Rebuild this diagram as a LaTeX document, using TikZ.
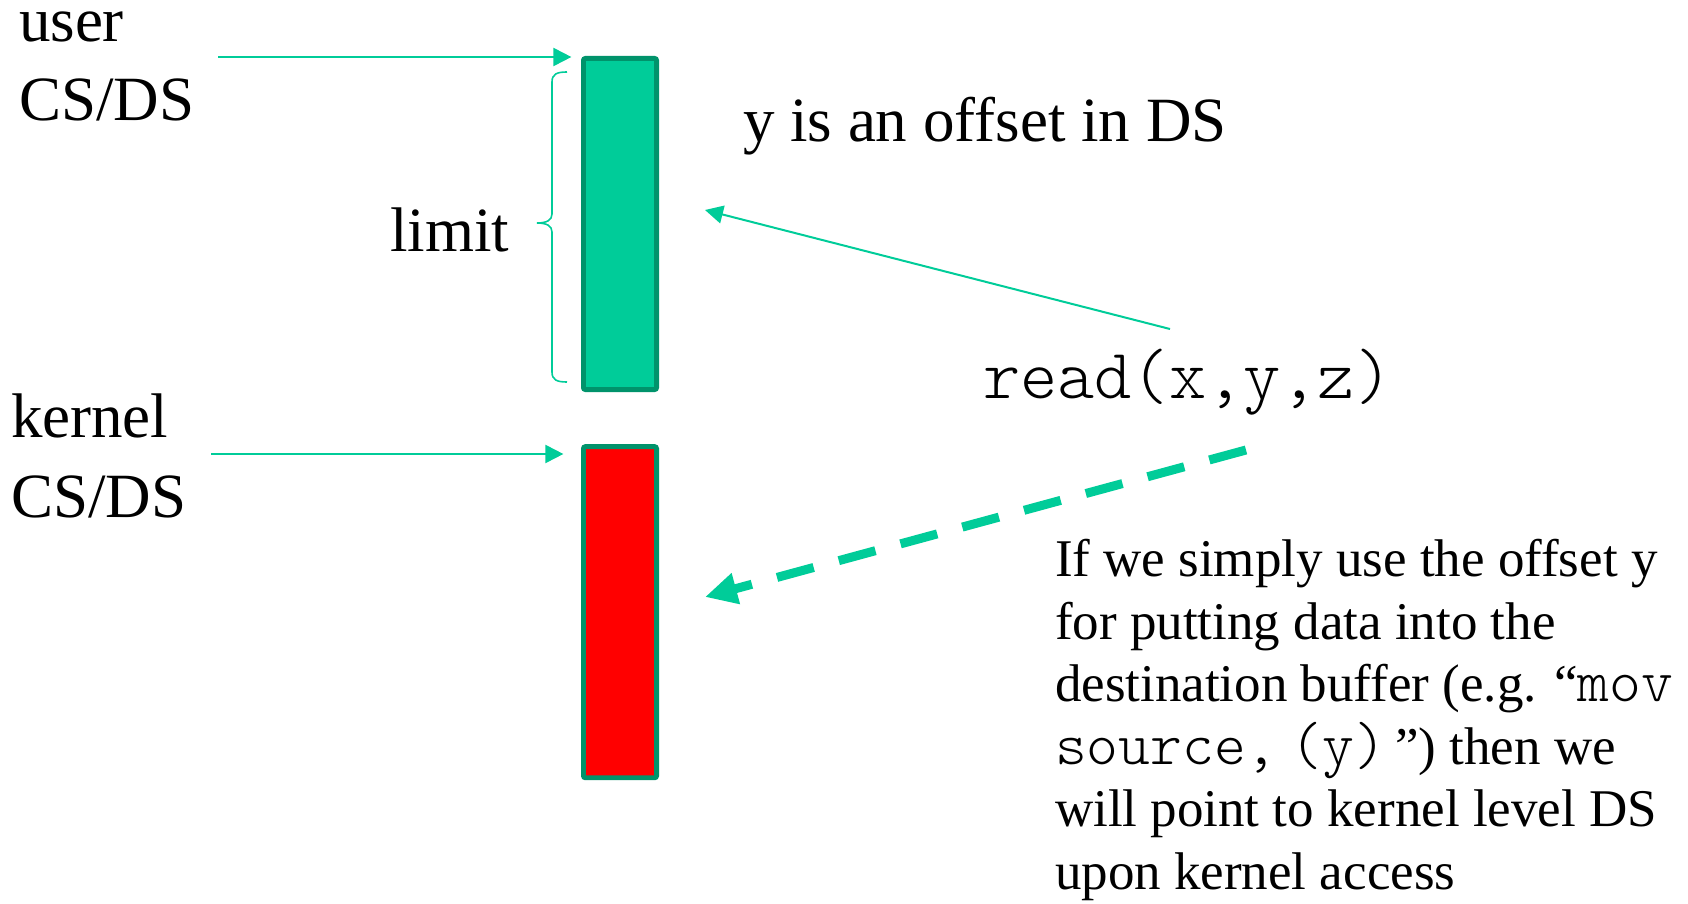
\documentclass[tikz,border=0pt]{standalone}
\usepackage{fontspec}
\setmainfont{Liberation Serif}
\setmonofont[Scale=1.143]{lmmonolt10-regular.otf}
\usetikzlibrary{arrows.meta,positioning}
\definecolor{segfill}{HTML}{00CC99}
\definecolor{segedge}{HTML}{00936B}
\definecolor{kernred}{HTML}{FF0000}

\begin{document}
\begin{tikzpicture}[x=0.5pt, y=-0.5pt, every node/.style={inner sep=0pt, outer sep=0pt},
    seg/.style={draw=segedge, line width=2.4pt, rounded corners=1pt, minimum width=36.6pt, minimum height=165.6pt},
    link/.style={segfill, line width=1pt, -{Triangle[length=9pt,width=9pt]}},
    big/.style={font=\fontsize{31.5}{39.8}\selectfont, align=left}]
        \useasboundingbox (0,0) rectangle (1688,904);
        % the two segments
        \node[seg,fill=segfill] (useg) at (620,224) {};
        \node[seg,fill=kernred,below=28.5pt of useg] (kseg) {};
        % labels on the left (base = last line)
        \node[big,anchor=base west] (ulbl) at (19,121) {user\\CS/DS};
        \node[big,anchor=base west] (klbl) at (11,517) {kernel\\CS/DS};
        \node[big,anchor=base west] (lim) at (390,251) {limit};
        \node[big,anchor=base west] (offs) at (743,141) {y is an offset in DS};
        \node[font=\ttfamily\fontsize{31}{37}\selectfont,anchor=base west] (read) at (983,398) {read(x,y,z)};
        \node[font=\fontsize{26.5}{31.25}\selectfont,align=left,anchor=base west] (note) at (1055,889)
            {If we simply use the offset y\\
             for putting data into the\\
             destination buffer (e.g. “\texttt{mov}\\
             \texttt{source,} \texttt{(y)}\,”) then we\\
             will point to kernel level DS\\
             upon kernel access};
        % connectors
        \coordinate (uin) at (218,57);
        \coordinate (kin) at (211,454);
        \coordinate (rtail) at (1170,329);
        \coordinate (uhit) at (705,210);
        \coordinate (dtail) at (1246,450);
        \coordinate (khit) at (705,597);
        \draw[link,shorten >=6pt] (uin) -- (uin -| useg.west);
        \draw[link,shorten >=10pt] (kin) -- (kin -| kseg.west);
        \draw[link] (rtail) -- (uhit);
        \draw[segfill,line width=4.5pt,dash pattern=on 19pt off 13pt,-{Triangle[length=16pt,width=15pt]}] (dtail) -- (khit);
        % brace for the limit
        \draw[segfill,line width=0.8pt] (567,72) .. controls (557,72) and (552,74) .. (552,82) -- (552,214)
            .. controls (552,220) and (547,223) .. (537,223) .. controls (547,223) and (552,226) .. (552,232)
            -- (552,372) .. controls (552,380) and (557,382) .. (567,382);
      \end{tikzpicture}
\end{document}
